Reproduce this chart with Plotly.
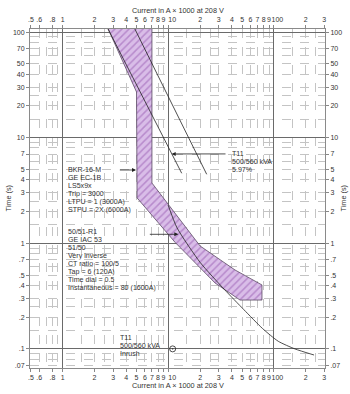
import plotly.graph_objects as go

# ---------------- data (current in kA, time in s) ----------------
band_current = [2.66, 7.0, 7.0, 20.0, 42.8, 77.1, 77.1, 47.8, 27.7, 11.6, 5.06, 5.0, 2.66]
band_time = [110, 110, 3.72, 0.943, 0.559, 0.403, 0.29, 0.29, 0.421, 1.02, 2.69, 27.1, 110]

relay_current = [9.94, 12.1, 20.0, 34.0, 52.0, 78.0, 110, 158, 240]
relay_time = [2.31, 1.40, 0.66, 0.365, 0.235, 0.156, 0.118, 0.100, 0.0875]

damage1_current = [2.65, 13.4]
damage1_time = [110, 4.6]
damage2_current = [4.76, 23.1]
damage2_time = [110, 4.5]

inrush_current = [11.0]
inrush_time = [0.1]

# tick marks
x_tickvals = [0.5, 0.6, 0.8, 1, 2, 3, 4, 5, 6, 7, 8, 9, 10, 20, 30, 40, 50, 60, 70, 80, 90, 100, 200, 300]
# label anchor positions ("10" and "100" nudged right as in the reference to avoid crowding)
x_labelpos = [0.5, 0.6, 0.8, 1, 2, 3, 4, 5, 6, 7, 8, 9, 10.9, 20, 30, 40, 50, 60, 70, 80, 90, 108, 200, 300]
x_ticktext = [".5", ".6", ".8", "1", "2", "3", "4", "5", "6", "7", "8", "9", "10",
              "2", "3", "4", "5", "6", "7", "8", "9", "100", "2", "3"]
y_tickvals = [100, 70, 50, 40, 30, 20, 10, 7, 5, 4, 3, 2, 1, 0.7, 0.5, 0.4, 0.3, 0.2, 0.1, 0.07]
y_ticktext = ["100", "70", "50", "40", "30", "20", "10", "7", "5", "4", "3", "2", "1",
              ".7", ".5", ".4", ".3", ".2", ".1", ".07"]

x_minor = [m * d for d in (0.1, 1, 10, 100) for m in (1.5, 2, 2.5, 3, 4, 5, 6, 7, 8, 9)]
y_minor = [m * d for d in (0.01, 0.1, 1, 10) for m in (1.5, 2, 2.5, 3, 4, 5, 6, 7, 8, 9)]
decades_x = [1, 10, 100]
decades_y = [0.1, 1, 10, 100]

bkr_text = ["BKR-16-M", "GE EC-1B", "LS5x9x", "Trip = 3000", "LTPU = 1 (3000A)", "STPU = 2X (6000A)"]
relay_text = ["50/51-R1", "GE IAC 53", "51/50", "Very inverse", "CT ratio = 100/5",
              "Tap = 6 (120A)", "Time dial = 0.5", "Instantaneous = 80 (1600A)"]
t11_text = ["T11", "500/560 kVA", "5.97%"]
inrush_text = ["T11", "500/560 kVA", "Inrush"]

x_title = "Current in A \u00d7 1000 at 208 V"
y_title = "Time (s)"

# ---------------- styling ----------------
FONT = "Liberation Sans, Arial, sans-serif"
TXT = "#333333"
XR = [-0.3097, 2.484]
YR = [-1.181, 2.029]

fig = go.Figure()

fig.add_trace(go.Scatter(
    x=band_current, y=band_time, mode="lines", fill="toself",
    line=dict(color="#5a4a63", width=0.8),
    fillcolor="#d9bde8",
    fillpattern=dict(shape="/", fgcolor="#9657b0", bgcolor="#d9bde8", size=5, solidity=0.3),
    hoverinfo="skip", showlegend=False))

for xs, ys in ((damage1_current, damage1_time), (damage2_current, damage2_time)):
    fig.add_trace(go.Scatter(x=xs, y=ys, mode="lines",
                             line=dict(color="#222222", width=0.8),
                             hoverinfo="skip", showlegend=False))

fig.add_trace(go.Scatter(x=relay_current, y=relay_time, mode="lines",
                         line=dict(color="#222222", width=0.8, shape="spline", smoothing=0.6),
                         hoverinfo="skip", showlegend=False))

fig.add_trace(go.Scatter(x=inrush_current, y=inrush_time, mode="markers",
                         marker=dict(symbol="circle-open-dot", size=6, color="#222222",
                                     line=dict(width=0.8, color="#222222")),
                         hoverinfo="skip", showlegend=False))

# dummy traces to instantiate overlay axes
for xa, ya in (("x2", "y2"), ("x3", "y3")):
    fig.add_trace(go.Scatter(x=[1], y=[1], xaxis=xa, yaxis=ya, mode="markers",
                             marker=dict(opacity=0), hoverinfo="skip", showlegend=False))

tickfont = dict(family=FONT, size=7, color=TXT)
common = dict(type="log", tickfont=tickfont, ticklen=3, tickwidth=0.8,
              showline=True, linecolor="#8a8a8a", linewidth=1, zeroline=False,
              tickangle=0, automargin=False, ticks="outside")
tickmarks_x = dict(tickvals=x_tickvals, ticks="outside", ticklen=3, tickcolor="#888888",
                   tickwidth=0.8, showgrid=False)
HIDDEN = "rgba(0,0,0,0)"

fig.update_layout(
    width=350, height=394,
    margin=dict(l=30, r=25, t=29, b=26, autoexpand=False),
    paper_bgcolor="white", plot_bgcolor="white",
    font=dict(family=FONT, size=7, color=TXT),
    xaxis=dict(range=XR, tickvals=x_labelpos, ticktext=x_ticktext, showgrid=False,
               tickcolor=HIDDEN,
               minor=dict(tickvals=x_minor, showgrid=True, gridcolor="#c4c4c4",
                          griddash="dash", gridwidth=0.6, ticks=""),
               **common),
    yaxis=dict(range=YR, tickvals=y_tickvals, ticktext=y_ticktext, showgrid=False,
               tickcolor="#888888",
               minor=dict(tickvals=y_minor, showgrid=True, gridcolor="#c4c4c4",
                          griddash="dash", gridwidth=0.6, ticks=""),
               **common),
    xaxis2=dict(range=XR, tickvals=x_labelpos, ticktext=x_ticktext, showgrid=False,
                tickcolor=HIDDEN, minor=tickmarks_x,
                overlaying="x", side="top", anchor="y", **common),
    yaxis2=dict(range=YR, tickvals=y_tickvals, ticktext=y_ticktext, showgrid=False,
                tickcolor="#888888", overlaying="y", side="right", anchor="x", **common),
    xaxis3=dict(type="log", range=XR, tickvals=decades_x, showticklabels=False, ticks="",
                showgrid=True, gridcolor="#6a6a6a", gridwidth=1, overlaying="x",
                minor=tickmarks_x,
                anchor="y", showline=False, zeroline=False, automargin=False),
    yaxis3=dict(type="log", range=YR, tickvals=decades_y, showticklabels=False, ticks="",
                showgrid=True, gridcolor="#6a6a6a", gridwidth=1, overlaying="y",
                anchor="x", showline=False, zeroline=False, automargin=False),
)

ann = []
afont = dict(family=FONT, size=7.1, color=TXT)

def text_block(lines, xlog, ytop_log, step):
    for i, s in enumerate(lines):
        ann.append(dict(x=xlog, y=ytop_log - i * step, xref="x", yref="y", text=s,
                        showarrow=False, xanchor="left", yanchor="middle", font=afont,
                        height=7.4, valign="middle"))

step = 8.0 / 105.6
text_block(bkr_text, 0.031, 0.694, step)
text_block(relay_text, 0.031, 0.112, step)
text_block(t11_text, 1.584, 0.846, step)
text_block(inrush_text, 0.527, -0.892, step)

def arrow(x_head, y_head, x_tail, y_tail):
    ann.append(dict(x=x_head, y=y_head, ax=x_tail, ay=y_tail, xref="x", yref="y",
                    axref="x", ayref="y", text="", showarrow=True, arrowhead=2,
                    arrowsize=1, arrowwidth=0.8, arrowcolor="#222222", standoff=0))

arrow(0.694, 0.694, 0.527, 0.694)
arrow(1.095, 0.085, 0.811, 0.085)
arrow(1.032, 0.846, 1.556, 0.846)

# axis titles
tfont = dict(family=FONT, size=7.3, color=TXT)
ann.append(dict(x=0.5, y=1, xref="paper", yref="paper", yshift=19, text=x_title,
                showarrow=False, font=tfont, xanchor="center", yanchor="middle"))
ann.append(dict(x=0.5, y=0, xref="paper", yref="paper", yshift=-17, text=x_title,
                showarrow=False, font=tfont, xanchor="center", yanchor="middle"))
ann.append(dict(x=0, y=0.5, xref="paper", yref="paper", xshift=-22, text=y_title,
                textangle=-90, showarrow=False, font=tfont, xanchor="center", yanchor="middle"))
ann.append(dict(x=1, y=0.5, xref="paper", yref="paper", xshift=18, text=y_title,
                textangle=-90, showarrow=False, font=tfont, xanchor="center", yanchor="middle"))

fig.update_layout(annotations=ann)
fig.write_html("out.html")
